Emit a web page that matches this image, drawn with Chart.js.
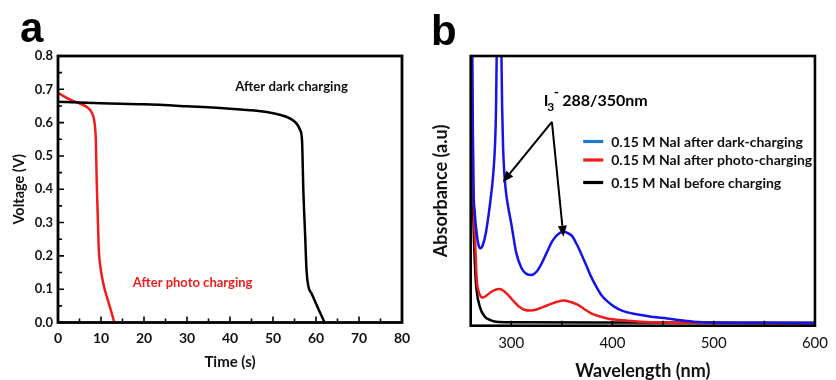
<!DOCTYPE html>
<html><head><meta charset="utf-8">
<script src="https://cdn.jsdelivr.net/npm/chart.js@4/dist/chart.umd.min.js"></script>
<style>
html,body{margin:0;padding:0;background:#fff;width:836px;height:380px;overflow:hidden}
canvas{position:absolute;top:0}
#ca{left:0}
#cb{left:420px}
</style></head><body>
<canvas id="ca" width="420" height="380"></canvas>
<canvas id="cb" width="416" height="380"></canvas>
<script>
// ---------- Panel a data ----------
const timeTicks = [0, 10, 20, 30, 40, 50, 60, 70, 80];
const voltageTicks = [0, 0.1, 0.2, 0.3, 0.4, 0.5, 0.6, 0.7, 0.8];
const darkTime    = [0, 10, 20, 30, 40, 48.5, 52, 54, 55.5, 56.3, 56.75, 57.05, 57.45, 57.8, 58.2, 59, 60.4, 62];
const darkVoltage = [0.663, 0.658, 0.655, 0.649, 0.642, 0.632, 0.622, 0.612, 0.597, 0.578, 0.547, 0.40, 0.27, 0.156, 0.11, 0.086, 0.045, 0];
const photoTime    = [0, 1.5, 2.8, 4, 5.1, 6.7, 7.8, 8.4, 8.8, 9.0, 9.23, 9.46, 9.77, 10.39, 10.93, 12, 13.1];
const photoVoltage = [0.689, 0.678, 0.669, 0.663, 0.657, 0.647, 0.631, 0.607, 0.547, 0.426, 0.326, 0.226, 0.176, 0.126, 0.096, 0.05, 0];

// ---------- Panel b data ----------
const wavelengthTicks = [300, 400, 500, 600];
const seriesLabelsB = ['0.15 M NaI after dark-charging', '0.15 M NaI after photo-charging', '0.15 M NaI before charging'];
const darkWl  = [261.5, 262.5, 264, 266, 268, 269.7, 272, 275, 278, 280, 281.5, 283, 284, 285, 285.8, 287, 288, 289, 290.2, 291, 292, 293.3, 295, 297.5, 300, 305, 310, 315, 320, 325, 330, 335, 340, 345, 351.6, 356, 360, 365, 369, 374, 379, 384, 389, 395, 402, 410, 420, 428, 440, 454, 465, 480, 500, 550, 600];
const darkAbs = [1.05, 0.56, 0.42, 0.34, 0.295, 0.287, 0.30, 0.345, 0.42, 0.48, 0.53, 0.60, 0.67, 0.80, 1.05, 1.6, 2.0, 1.6, 1.05, 0.82, 0.66, 0.56, 0.49, 0.43, 0.38, 0.27, 0.215, 0.192, 0.188, 0.20, 0.23, 0.27, 0.31, 0.335, 0.348, 0.343, 0.333, 0.30, 0.268, 0.225, 0.181, 0.145, 0.114, 0.09, 0.07, 0.055, 0.045, 0.04, 0.032, 0.027, 0.021, 0.015, 0.012, 0.011, 0.010];
const photoWl  = [261, 262, 263, 264.5, 266, 268, 270, 272.2, 276, 280, 284, 288.4, 293, 298, 303, 308, 313, 319, 325, 332, 340, 346.7, 351.6, 357, 366, 372, 379, 387, 395, 410, 428, 450, 500, 600];
const photoAbs = [1.05, 0.70, 0.45, 0.30, 0.169, 0.125, 0.108, 0.105, 0.113, 0.125, 0.133, 0.136, 0.128, 0.11, 0.088, 0.07, 0.059, 0.056, 0.06, 0.07, 0.082, 0.09, 0.093, 0.09, 0.077, 0.062, 0.046, 0.035, 0.027, 0.02, 0.015, 0.012, 0.010, 0.008];
const beforeWl  = [260.5, 261.5, 263, 264.5, 265.8, 269, 274, 280, 285, 300, 400, 600];
const beforeAbs = [1.05, 0.60, 0.35, 0.20, 0.132, 0.07, 0.033, 0.02, 0.015, 0.013, 0.012, 0.011];

const pts = (xs, ys) => xs.map((x, i) => ({x: x, y: ys[i]}));

Chart.defaults.font.family = 'Lato';
Chart.defaults.color = '#111';

function drawArrow(ctx, x1, y1, x2, y2, head, half) {
  const ang = Math.atan2(y2 - y1, x2 - x1);
  const bx = x2 - head * Math.cos(ang), by = y2 - head * Math.sin(ang);
  ctx.beginPath(); ctx.moveTo(x1, y1); ctx.lineTo(bx, by); ctx.stroke();
  ctx.beginPath(); ctx.moveTo(x2, y2);
  ctx.lineTo(bx + half * Math.sin(ang), by - half * Math.cos(ang));
  ctx.lineTo(bx - half * Math.sin(ang), by + half * Math.cos(ang));
  ctx.closePath(); ctx.fill();
}

const decor = {
  id: 'decor',
  afterDraw(chart) {
    const o = chart.options.plugins.decor;
    if (!o) return;
    const ctx = chart.ctx, ca = chart.chartArea, xs = chart.scales.x, ys = chart.scales.y;
    ctx.save();
    ctx.strokeStyle = '#000'; ctx.fillStyle = '#000';
    ctx.lineWidth = 1.6;
    ctx.beginPath();
    for (let v = o.xTickStart; v <= xs.max + 1e-9; v += o.xTickStep) {
      const px = xs.getPixelForValue(v);
      const major = Math.abs(v / o.xMajor - Math.round(v / o.xMajor)) < 1e-6;
      ctx.moveTo(px, ca.bottom); ctx.lineTo(px, ca.bottom - (major ? o.majorLen : o.minorLen));
    }
    if (o.yTickStep) {
      for (let v = ys.min; v <= ys.max + 1e-9; v += o.yTickStep) {
        const py = ys.getPixelForValue(v);
        const major = Math.abs(v / o.yMajor - Math.round(v / o.yMajor)) < 1e-6;
        ctx.moveTo(ca.left, py); ctx.lineTo(ca.left + (major ? o.majorLen : o.minorLen), py);
      }
    }
    ctx.stroke();
    ctx.lineWidth = o.frameWidth;
    ctx.strokeRect(ca.left, ca.top, ca.right - ca.left, ca.bottom - ca.top);
    // panel letter
    ctx.font = 'bold 42px "Liberation Sans", Arial, sans-serif';
    ctx.textBaseline = 'alphabetic'; ctx.textAlign = 'left';
    ctx.fillText(o.letter.text, o.letter.px, o.letter.py);
    // data-anchored texts
    (o.texts || []).forEach(t => {
      ctx.font = t.font; ctx.fillStyle = t.color;
      ctx.fillText(t.text, xs.getPixelForValue(t.x), ys.getPixelForValue(t.y));
    });
    ctx.fillStyle = '#000';
    // I3- annotation
    if (o.ion) {
      const x0 = xs.getPixelForValue(o.ion.x), y0 = ys.getPixelForValue(o.ion.y);
      ctx.font = 'bold 16px Lato';
      ctx.fillText('I', x0, y0);
      ctx.font = 'bold 12px Lato';
      ctx.fillText('3', x0 + 3.5, y0 + 5);
      ctx.font = 'bold 14px Lato';
      ctx.fillText('-', x0 + 10, y0 - 9);
      ctx.font = 'bold 16px Lato';
      ctx.fillText(o.ion.rest, x0 + 18.5, y0);
    }
    if (o.arrows) {
      ctx.lineWidth = 2;
      o.arrows.tips.forEach(tp => {
        drawArrow(ctx, xs.getPixelForValue(o.arrows.from[0]), ys.getPixelForValue(o.arrows.from[1]),
          xs.getPixelForValue(tp[0]), ys.getPixelForValue(tp[1]), 11, 4.5);
      });
    }
    if (o.legend) {
      const L = o.legend;
      ctx.font = 'bold 14px Lato'; ctx.textBaseline = 'middle';
      chart.data.datasets.forEach((ds, i) => {
        const yy = ca.top + L.rows[i];
        ctx.strokeStyle = L.colors[i]; ctx.lineWidth = 3.2;
        ctx.beginPath(); ctx.moveTo(ca.left + L.x, yy); ctx.lineTo(ca.left + L.x + 20, yy); ctx.stroke();
        ctx.fillStyle = '#111';
        ctx.fillText(ds.label, ca.left + L.x + 28, yy + 0.5);
      });
    }
    ctx.restore();
  }
};

const lineStyle = {pointRadius: 0, borderWidth: 2.5, cubicInterpolationMode: 'monotone', fill: false};

new Chart(document.getElementById('ca'), {
  type: 'line',
  data: {datasets: [
    Object.assign({label: 'After dark charging', data: pts(darkTime, darkVoltage), borderColor: '#000'}, lineStyle),
    Object.assign({label: 'After photo charging', data: pts(photoTime, photoVoltage), borderColor: '#ee1c1c'}, lineStyle)
  ]},
  options: {
    responsive: false, animation: false, events: [],
    layout: {padding: {left: 0, top: 56, right: 18, bottom: 0}},
    plugins: {legend: {display: false}, tooltip: {enabled: false},
      decor: {
        xTickStart: 0, xTickStep: 5, xMajor: 10, yTickStep: 0.05, yMajor: 0.1,
        majorLen: 6, minorLen: 4, frameWidth: 2.8,
        letter: {text: 'a', px: 20, py: 42},
        texts: [
          {text: 'After dark charging', x: 41.2, y: 0.695, color: '#111', font: 'bold 13.2px Lato'},
          {text: 'After photo charging', x: 17.4, y: 0.108, color: '#ee1c1c', font: 'bold 13px Lato'}
        ]
      }
    },
    scales: {
      x: {type: 'linear', min: 0, max: 80,
        afterBuildTicks: s => { s.ticks = timeTicks.map(v => ({value: v})); },
        afterFit: s => { s.height = 57.5; },
        grid: {display: false, drawTicks: false}, border: {display: false},
        ticks: {padding: 7.5, font: {size: 14, weight: 'bold'}, color: '#111', maxRotation: 0, autoSkip: false},
        title: {display: true, text: 'Time (s)', font: {size: 15, weight: 'bold', lineHeight: 1}, padding: {top: 0, bottom: 10.5}, color: '#111'}
      },
      y: {type: 'linear', min: 0, max: 0.8,
        afterBuildTicks: s => { s.ticks = voltageTicks.map(v => ({value: v})); },
        afterFit: s => { s.width = 58; },
        grid: {display: false, drawTicks: false}, border: {display: false},
        ticks: {padding: 5, font: {size: 13, weight: 'bold'}, color: '#111', callback: v => Number(v).toFixed(1), autoSkip: false},
        title: {display: true, text: 'Voltage (V)', font: {size: 14.5, weight: 'bold', lineHeight: 1}, padding: {top: 12, bottom: 0}, color: '#111'}
      }
    }
  },
  plugins: [decor]
});

new Chart(document.getElementById('cb'), {
  type: 'line',
  data: {datasets: [
    Object.assign({label: seriesLabelsB[0], data: pts(darkWl, darkAbs), borderColor: '#1414e6'}, lineStyle),
    Object.assign({label: seriesLabelsB[1], data: pts(photoWl, photoAbs), borderColor: '#ee1c1c'}, lineStyle),
    Object.assign({label: seriesLabelsB[2], data: pts(beforeWl, beforeAbs), borderColor: '#000'}, lineStyle)
  ]},
  options: {
    responsive: false, animation: false, events: [],
    layout: {padding: {left: 0, top: 56, right: 14, bottom: 0}},
    plugins: {legend: {display: false}, tooltip: {enabled: false},
      decor: {
        xTickStart: 300, xTickStep: 50, xMajor: 50, yTickStep: 0,
        majorLen: 5, minorLen: 5, frameWidth: 2.6,
        letter: {text: 'b', px: 11, py: 45},
        ion: {x: 332.1, y: 0.814, rest: '288/350nm'},
        arrows: {from: [340.2, 0.756], tips: [[291.7, 0.532], [351.6, 0.33]]},
        legend: {x: 112.5, rows: [85.5, 104, 126.5], colors: ['#1e78d2', '#ee1c1c', '#000']}
      }
    },
    scales: {
      x: {type: 'linear', min: 260, max: 600,
        afterBuildTicks: s => { s.ticks = wavelengthTicks.map(v => ({value: v})); },
        afterFit: s => { s.height = 54.3; },
        grid: {display: false, drawTicks: false}, border: {display: false},
        ticks: {padding: 8, font: {size: 15}, color: '#111', maxRotation: 0, autoSkip: false},
        title: {display: true, text: 'Wavelength (nm)', font: {size: 18, weight: 'bold', lineHeight: 1}, padding: {top: 0, bottom: 0}, color: '#111'}
      },
      y: {type: 'linear', min: 0, max: 1,
        afterFit: s => { s.width = 50.7; },
        grid: {display: false, drawTicks: false}, border: {display: false},
        ticks: {display: false},
        title: {display: true, text: 'Absorbance (a.u)', font: {size: 18, weight: 'bold', lineHeight: 1}, padding: {top: 12, bottom: 0}, color: '#111'}
      }
    }
  },
  plugins: [decor]
});
</script>
</body></html>
